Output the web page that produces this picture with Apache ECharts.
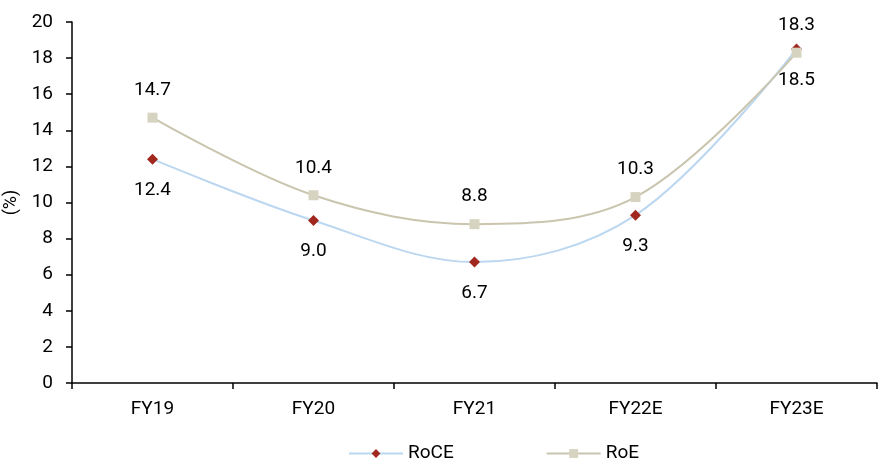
<!DOCTYPE html>
<html>
<head>
<meta charset="utf-8">
<script src="https://cdn.jsdelivr.net/npm/echarts@6/dist/echarts.min.js"></script>
<style>
  html, body { margin: 0; padding: 0; background: #fff; }
  #chart { width: 882px; height: 464px; }
</style>
</head>
<body>
<div id="chart"></div>
<script>
const categories = ['FY19', 'FY20', 'FY21', 'FY22E', 'FY23E']
const roce = [12.4, 9.0, 6.7, 9.3, 18.5]
const roe = [14.7, 10.4, 8.8, 10.3, 18.3]
const yTicks = { min: 0, max: 20, interval: 2 }

const font = 'Roboto, "Liberation Sans Narrow", sans-serif'

const chart = echarts.init(document.getElementById('chart'))

const option = {
  animation: false,
  textStyle: { fontFamily: font },
  grid: {
    left: 72,
    right: 5,
    top: 22,
    bottom: 81,
    outerBoundsMode: 'none',
    containLabel: false
  },
  legend: {
    left: 348,
    top: 444,
    itemWidth: 54,
    itemHeight: 11,
    itemGap: 92,
    padding: 0,
    textStyle: { fontFamily: font, fontSize: 19, color: '#000' },
    data: ['RoCE', 'RoE']
  },
  xAxis: {
    type: 'category',
    data: categories,
    boundaryGap: true,
    axisLine: { lineStyle: { color: '#000', width: 1.5 } },
    axisTick: { show: true, inside: false, length: 6, lineStyle: { color: '#000', width: 1.5 } },
    axisLabel: { color: '#000', fontSize: 19, fontFamily: font, margin: 17 }
  },
  yAxis: {
    type: 'value',
    min: yTicks.min,
    max: yTicks.max,
    interval: yTicks.interval,
    name: '(%)',
    nameLocation: 'middle',
    nameRotate: 90,
    nameGap: 42,
    nameTextStyle: { color: '#000', fontSize: 18, fontFamily: font },
    splitLine: { show: false },
    axisLine: { show: true, lineStyle: { color: '#000', width: 1.5 } },
    axisTick: { show: true, inside: false, length: 6, lineStyle: { color: '#000', width: 1.5 } },
    axisLabel: { color: '#000', fontSize: 19, fontFamily: font, margin: 19 }
  },
  series: [
    {
      name: 'RoCE',
      type: 'line',
      data: roce,
      smooth: 0.35,
      symbol: 'diamond',
      symbolSize: 11,
      lineStyle: { color: '#bcd7f0', width: 2 },
      itemStyle: { color: '#a0281e' },
      label: {
        show: true,
        position: 'bottom',
        distance: 16,
        color: '#000',
        fontSize: 19,
        fontFamily: font,
        formatter: p => p.value.toFixed(1)
      }
    },
    {
      name: 'RoE',
      type: 'line',
      data: roe,
      smooth: 0.35,
      symbol: 'rect',
      symbolSize: 10,
      lineStyle: { color: '#c9c5ae', width: 2 },
      itemStyle: { color: '#d6d3c1' },
      label: {
        show: true,
        position: 'top',
        distance: 13,
        color: '#000',
        fontSize: 19,
        fontFamily: font,
        formatter: p => p.value.toFixed(1)
      }
    }
  ]
}

chart.setOption(option)

window.addEventListener('resize', () => {
  chart.resize()
})
</script>
</body>
</html>
